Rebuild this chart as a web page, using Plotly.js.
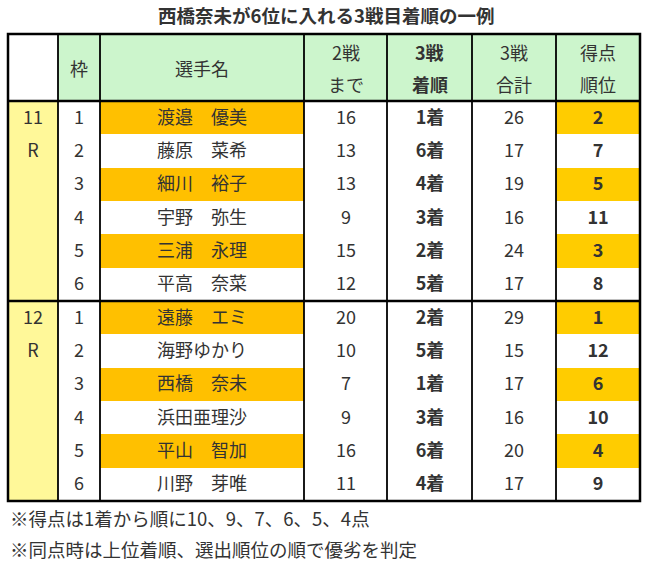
<!DOCTYPE html>
<html><head><meta charset="utf-8">
<script src="https://cdn.plot.ly/plotly-3.0.1.min.js"></script>
<style>html,body{margin:0;padding:0;background:#fff}</style>
</head><body>
<div id="chart" style="width:646px;height:562px"></div>
<script>
// ---- data ----
const chartTitle = '西橋奈未が6位に入れる3戦目着順の一例';
const headerLine1 = ['', '枠', '選手名', '2戦', '<b>3戦</b>', '3戦', '得点'];
const headerLine2 = ['', '', '', 'まで', '<b>着順</b>', '合計', '順位'];
const races = ['11', '12'];
const waku = [1, 2, 3, 4, 5, 6, 1, 2, 3, 4, 5, 6];
const players = ['渡邉　優美', '藤原　菜希', '細川　裕子', '宇野　弥生', '三浦　永理', '平高　奈菜',
                 '遠藤　エミ', '海野ゆかり', '西橋　奈未', '浜田亜理沙', '平山　智加', '川野　芽唯'];
const pointsAfter2 = [16, 13, 13, 9, 15, 12, 20, 10, 7, 9, 16, 11];
const finish3 = [1, 6, 4, 3, 2, 5, 2, 5, 1, 3, 6, 4];
const total3 = [26, 17, 19, 16, 24, 17, 29, 15, 17, 16, 20, 17];
const rank = [2, 7, 5, 11, 3, 8, 1, 12, 6, 10, 4, 9];
const notes = ['※得点は1着から順に10、9、7、6、5、4点', '※同点時は上位着順、選出順位の順で優劣を判定'];

// ---- layout geometry (pixel-like units on hidden axes) ----
const W = 646, H = 562;
const colEdges = [8, 58, 100, 304, 387, 472, 556, 640];
const tableTop = 34, headerBottom = 101, tableBottom = 501;
const nRows = players.length;
const rowH = (tableBottom - headerBottom) / nRows;
const rowEdges = [tableTop, headerBottom];
for (let i = 1; i <= nRows; i++) rowEdges.push(headerBottom + rowH * i);

const FONT = '"Noto Sans CJK JP", "Noto Sans", sans-serif';
const TXT = '#333333';
const FS = 18;

// colour codes: 0 white, 1 header green, 2 race yellow, 3 name orange, 4 rank orange
const z = [[0, 1, 1, 1, 1, 1, 1]];
const text = [['', '', '', '', '', '', '']];
const perRace = nRows / races.length;
for (let i = 0; i < nRows; i++) {
  const top = rank[i] <= 6;
  z.push([2, 0, top ? 3 : 0, 0, 0, 0, top ? 4 : 0]);
  const r = Math.floor(i / perRace), k = i % perRace;
  const raceTxt = k === 0 ? races[r] : (k === 1 ? 'R' : '');
  text.push([raceTxt, String(waku[i]), players[i], String(pointsAfter2[i]),
             '<b>' + finish3[i] + '着</b>', String(total3[i]), '<b>' + rank[i] + '</b>']);
}

const trace = {
  type: 'heatmap',
  x: colEdges, y: rowEdges, z: z,
  text: text, texttemplate: '%{text}',
  textfont: {family: FONT, size: FS, color: TXT},
  zmin: 0, zmax: 4, showscale: false,
  colorscale: [[0, '#ffffff'], [0.25, '#ccf5cc'], [0.5, '#fff899'], [0.75, '#ffc000'], [1, '#ffcc00']],
  xgap: 0, ygap: 0, hoverinfo: 'skip'
};

const shapes = [];
shapes.push({type: 'rect', xref: 'x', yref: 'y', x0: colEdges[0], x1: colEdges[colEdges.length - 1],
  y0: tableTop, y1: tableBottom, line: {color: '#000', width: 2.5}});
for (let j = 1; j < colEdges.length - 1; j++) {
  shapes.push({type: 'line', xref: 'x', yref: 'y', x0: colEdges[j], x1: colEdges[j],
    y0: tableTop, y1: tableBottom, line: {color: '#000', width: 1.8}});
}
const sepYs = [headerBottom, headerBottom + rowH * perRace];
sepYs.forEach(yv => shapes.push({type: 'line', xref: 'x', yref: 'y', x0: colEdges[0],
  x1: colEdges[colEdges.length - 1], y0: yv, y1: yv, line: {color: '#000', width: 2.5}}));

const annotations = [];
const hMid = (tableTop + headerBottom) / 2;
for (let j = 0; j < headerLine1.length; j++) {
  const xc = (colEdges[j] + colEdges[j + 1]) / 2;
  if (headerLine2[j]) {
    annotations.push({x: xc, y: hMid - 16, xref: 'x', yref: 'y', text: headerLine1[j], showarrow: false,
      font: {family: FONT, size: FS, color: TXT}, xanchor: 'center', yanchor: 'middle'});
    annotations.push({x: xc, y: hMid + 16, xref: 'x', yref: 'y', text: headerLine2[j], showarrow: false,
      font: {family: FONT, size: FS, color: TXT}, xanchor: 'center', yanchor: 'middle'});
  } else if (headerLine1[j]) {
    annotations.push({x: xc, y: hMid, xref: 'x', yref: 'y', text: headerLine1[j], showarrow: false,
      font: {family: FONT, size: FS, color: TXT}, xanchor: 'center', yanchor: 'middle'});
  }
}
notes.forEach((n, i) => annotations.push({x: colEdges[0], y: 518 + i * 31, xref: 'x', yref: 'y', text: n,
  showarrow: false, font: {family: FONT, size: 18.5, color: TXT}, xanchor: 'left', yanchor: 'middle'}));

const layout = {
  width: W, height: H,
  margin: {l: 0, r: 0, t: 0, b: 0},
  paper_bgcolor: '#ffffff', plot_bgcolor: '#ffffff',
  title: {text: '<b>' + chartTitle + '</b>', x: 0.505, xanchor: 'center', y: 1 - 17 / H, yanchor: 'middle',
    font: {family: FONT, size: 18.5, color: TXT}},
  xaxis: {range: [0, W], visible: false, fixedrange: true},
  yaxis: {range: [H, 0], visible: false, fixedrange: true},
  shapes: shapes, annotations: annotations, showlegend: false
};

Plotly.newPlot('chart', [trace], layout, {displayModeBar: false, staticPlot: true});
</script>
</body></html>
